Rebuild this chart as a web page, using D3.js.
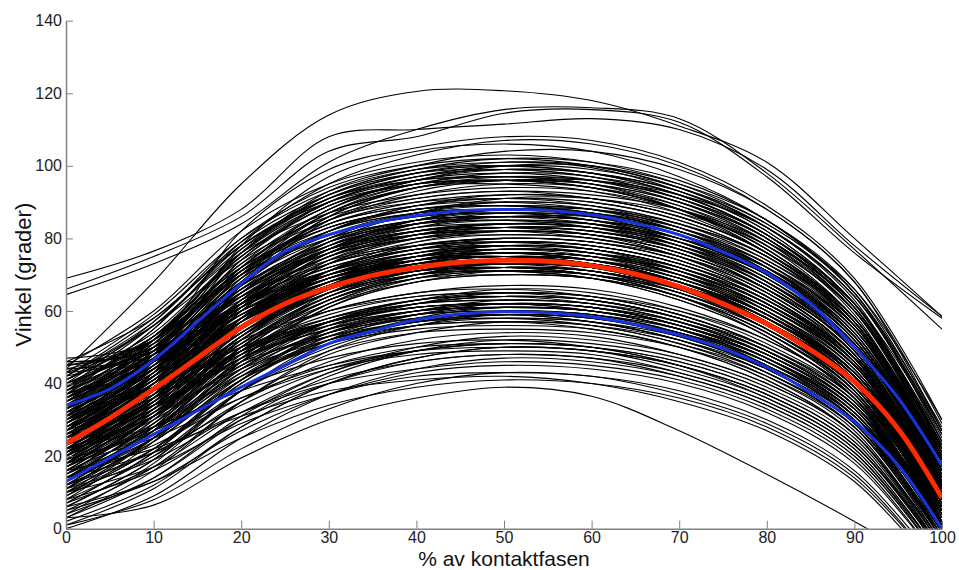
<!DOCTYPE html>
<html>
<head>
<meta charset="utf-8">
<script src="https://cdn.jsdelivr.net/npm/d3@7"></script>
<style>
  body { margin: 0; background: #fff; }
  svg { display: block; font-family: "Liberation Sans", Arial, sans-serif; }
</style>
</head>
<body>
<div id="chart"></div>
<script>
// sample positions (% of contact phase) for the individual trials
const trialX = [0, 10, 20, 30, 40, 50, 60, 70, 80, 90, 100];

// individual trials (degrees)
const trials = [
  // outliers on top
  [44, 68, 95, 114, 120.5, 120.7, 118, 111, 101, 80, 58.5],
  [69, 76.5, 88, 108, 110, 111.5, 113, 110, 99, 78, 58.5],
  [66, 75, 86, 104, 108, 114.5, 115.5, 112, 97, 76, 58],
  [64.5, 73, 84, 101, 110, 115.5, 116, 113, 98, 77, 55],
  // high
  [45, 60, 82, 95, 101, 103, 101, 95, 84, 66, 30],
  [40, 57, 80, 94, 100, 102, 100, 94, 83, 64, 27],
  [35, 52, 76, 92, 99, 101, 99.5, 93, 82, 62, 24],
  [46, 50, 78, 97, 104, 106, 104, 97, 85, 65, 28],
  [38, 55, 79, 95, 103, 107, 106, 100, 88, 68, 29],
  [30, 48, 74, 90, 97, 99, 97, 91, 80, 60, 22],
  [42, 58, 78, 91, 97, 99, 98, 93, 83, 64, 25],
  [33, 50, 73, 88, 95, 98, 97, 92, 81, 61, 20],
  [28, 45, 70, 87, 95, 97, 95, 88, 76, 57, 18],
  [44, 49, 76, 93, 100, 104, 104, 99, 88, 68, 27],
  [36, 53, 75, 89, 96, 100, 100, 95, 85, 65, 24],
  [25, 42, 68, 86, 94, 96, 94, 88, 77, 58, 20],
  [47, 52, 82, 99, 105, 108, 107, 101, 89, 69, 30],
  [39, 56, 77, 91, 98, 101, 100, 94, 83, 63, 22],
  [32, 49, 72, 88, 96, 99, 98, 93, 82, 62, 21],
  [43, 59, 80, 93, 99, 100, 98, 92, 81, 62, 23],
  [34, 51, 75, 90, 97, 100, 99, 94, 84, 65, 26],
  [29, 47, 72, 88, 96, 98, 96, 90, 79, 59, 19],
  [41, 54, 76, 90, 96, 97, 95, 89, 78, 58, 18],
  [37, 55, 78, 91, 96, 97, 96, 91, 81, 62, 24],
  [24, 43, 69, 86, 94, 97, 96, 91, 81, 62, 22],
  [45, 52, 77, 92, 99, 102, 101, 96, 85, 66, 27],
  [31, 49, 74, 89, 95, 96, 94, 88, 77, 57, 17],
  [39, 53, 75, 89, 95, 96, 95, 90, 80, 61, 23],
  [27, 46, 71, 87, 94, 95, 93, 87, 76, 57, 18],
  [42, 57, 79, 92, 98, 99, 97, 91, 80, 60, 20],
  [33, 52, 76, 91, 98, 100, 98, 92, 81, 61, 21],
  [20, 40, 67, 85, 93, 96, 95, 90, 80, 61, 22],
  [36, 50, 72, 87, 94, 96, 96, 92, 83, 64, 26],
  [46, 58, 78, 90, 95, 96, 94, 88, 77, 58, 19],
  // upper middle
  [41, 56, 76, 87, 92, 94, 93, 88, 78, 60, 22],
  [37, 52, 73, 85, 91, 93, 91, 86, 76, 58, 20],
  [29, 45, 68, 82, 89, 92, 91, 86, 76, 57, 19],
  [44, 48, 70, 85, 90, 91, 90, 85, 75, 57, 18],
  [34, 49, 70, 83, 88, 90, 89, 84, 74, 56, 17],
  [26, 42, 65, 80, 87, 90, 89, 84, 75, 56, 16],
  [31, 47, 69, 82, 88, 89, 87, 81, 70, 52, 15],
  [38, 53, 72, 83, 88, 89, 88, 83, 73, 55, 18],
  [22, 38, 62, 78, 85, 88, 87, 82, 72, 54, 15],
  [45, 50, 69, 82, 87, 88, 86, 80, 70, 52, 13],
  [35, 50, 70, 81, 86, 87, 86, 81, 71, 53, 16],
  [27, 43, 65, 79, 85, 86, 85, 80, 70, 51, 12],
  [40, 52, 70, 80, 85, 86, 85, 81, 72, 55, 19],
  [20, 36, 60, 76, 83, 86, 85, 80, 70, 52, 14],
  [33, 47, 67, 79, 84, 85, 84, 79, 69, 51, 13],
  [24, 40, 63, 77, 83, 85, 84, 79, 69, 50, 11],
  [43, 48, 67, 79, 84, 85, 83, 77, 66, 48, 10],
  [30, 44, 64, 77, 82, 84, 83, 78, 68, 50, 12],
  [36, 48, 66, 77, 82, 83, 82, 77, 67, 49, 11],
  [18, 34, 58, 74, 81, 83, 82, 77, 67, 49, 12],
  [28, 42, 62, 75, 81, 83, 82, 78, 69, 51, 14],
  [46, 49, 65, 77, 81, 82, 81, 76, 66, 48, 9],
  [25, 41, 62, 75, 80, 82, 81, 76, 66, 48, 10],
  [32, 46, 65, 76, 81, 82, 80, 75, 65, 47, 9],
  [39, 52, 71, 84, 90, 92, 91, 86, 76, 58, 21],
  [23, 39, 63, 79, 87, 91, 91, 87, 78, 60, 23],
  [42, 56, 74, 86, 91, 93, 92, 88, 79, 62, 26],
  [31, 48, 71, 85, 92, 95, 94, 89, 79, 60, 20],
  [36, 51, 71, 84, 89, 91, 90, 85, 75, 56, 17],
  [27, 44, 67, 82, 89, 91, 89, 83, 72, 53, 14],
  [38, 51, 71, 83, 88, 89, 87, 82, 72, 54, 16],
  [30, 46, 68, 81, 87, 88, 87, 82, 73, 55, 17],
  [21, 37, 61, 76, 84, 87, 86, 81, 71, 53, 14],
  [43, 52, 70, 81, 86, 87, 85, 79, 68, 50, 11],
  [26, 41, 63, 77, 84, 86, 85, 81, 71, 53, 15],
  [35, 48, 68, 80, 85, 86, 84, 78, 67, 49, 10],
  [17, 33, 57, 73, 81, 84, 83, 79, 70, 52, 14],
  [32, 45, 65, 78, 84, 85, 84, 80, 71, 54, 17],
  [40, 50, 67, 78, 83, 84, 83, 78, 68, 50, 12],
  [23, 38, 60, 75, 82, 84, 83, 78, 68, 50, 11],
  [28, 42, 62, 75, 81, 83, 83, 79, 70, 53, 16],
  [37, 48, 65, 76, 81, 82, 81, 76, 66, 48, 10],
  [19, 35, 58, 73, 80, 83, 82, 77, 67, 49, 11],
  [44, 51, 66, 77, 82, 83, 81, 75, 64, 46, 8],
  [25, 40, 61, 74, 80, 82, 81, 77, 68, 51, 14],
  [31, 44, 63, 75, 80, 81, 80, 75, 65, 47, 9],
  [15, 31, 55, 71, 79, 82, 81, 76, 66, 48, 10],
  [34, 47, 66, 78, 84, 86, 86, 82, 73, 56, 19],
  [22, 39, 62, 77, 85, 88, 87, 82, 72, 53, 13],
  [29, 44, 66, 80, 87, 89, 88, 83, 73, 55, 16],
  [39, 53, 72, 84, 89, 90, 88, 82, 71, 52, 12],
  [18, 36, 61, 77, 85, 88, 88, 84, 75, 57, 18],
  [33, 46, 64, 76, 82, 84, 84, 80, 72, 56, 20],
  [27, 43, 65, 79, 85, 87, 85, 79, 68, 49, 9],
  [41, 53, 71, 82, 87, 88, 87, 83, 74, 57, 20],
  // middle
  [23, 38, 56, 68, 74, 76, 75, 70, 60, 44, 11],
  [26, 40, 58, 69, 75, 77, 76, 70, 60, 43, 9],
  [20, 35, 54, 67, 73, 75, 74, 68, 58, 42, 8],
  [29, 42, 59, 70, 75, 77, 75, 69, 59, 42, 7],
  [17, 32, 52, 65, 72, 74, 73, 68, 58, 42, 9],
  [33, 45, 61, 71, 76, 78, 77, 72, 62, 46, 12],
  [22, 37, 56, 68, 74, 76, 74, 68, 57, 40, 6],
  [14, 29, 50, 64, 71, 74, 73, 68, 59, 43, 10],
  [30, 43, 60, 71, 77, 79, 78, 73, 63, 47, 13],
  [25, 39, 57, 69, 75, 77, 76, 71, 61, 45, 11],
  [19, 34, 53, 66, 72, 74, 73, 67, 57, 40, 7],
  [36, 47, 62, 72, 77, 79, 78, 73, 64, 47, 14],
  [28, 41, 58, 69, 74, 76, 74, 68, 58, 41, 7],
  [21, 36, 55, 67, 73, 75, 73, 67, 56, 39, 5],
  [11, 27, 49, 63, 70, 73, 72, 67, 58, 42, 9],
  [34, 46, 62, 73, 79, 81, 80, 75, 65, 48, 15],
  [24, 38, 56, 68, 73, 75, 73, 67, 57, 40, 6],
  [31, 43, 59, 69, 74, 75, 74, 69, 59, 43, 10],
  [16, 31, 51, 64, 71, 73, 72, 67, 57, 41, 8],
  [27, 41, 59, 71, 77, 80, 79, 74, 64, 47, 13],
  [38, 49, 63, 72, 77, 78, 77, 72, 62, 45, 11],
  [22, 36, 54, 66, 71, 73, 72, 67, 58, 42, 9],
  [13, 28, 49, 63, 70, 72, 71, 66, 56, 40, 7],
  [29, 41, 57, 67, 72, 73, 72, 66, 56, 39, 5],
  [18, 33, 53, 66, 72, 74, 72, 66, 55, 38, 4],
  [35, 46, 60, 69, 73, 74, 72, 67, 57, 40, 6],
  [24, 39, 58, 71, 78, 80, 79, 74, 64, 47, 13],
  [20, 34, 52, 64, 70, 72, 71, 66, 56, 40, 8],
  [32, 44, 60, 70, 75, 76, 75, 70, 61, 45, 12],
  [15, 30, 50, 63, 69, 71, 70, 65, 55, 39, 6],
  [26, 39, 56, 67, 72, 74, 73, 68, 59, 43, 10],
  [40, 50, 64, 73, 78, 79, 78, 73, 63, 46, 12],
  [21, 35, 53, 65, 71, 72, 71, 65, 55, 38, 3],
  [28, 40, 56, 66, 71, 72, 70, 64, 54, 37, 2],
  [12, 27, 47, 61, 68, 70, 69, 64, 55, 39, 7],
  [33, 44, 58, 68, 72, 73, 72, 67, 58, 42, 10],
  [23, 37, 55, 66, 71, 72, 70, 64, 53, 36, 1],
  [17, 31, 50, 62, 68, 70, 69, 64, 54, 38, 5],
  [30, 42, 57, 67, 71, 72, 71, 66, 57, 41, 9],
  [25, 38, 54, 65, 70, 71, 69, 63, 53, 36, 2],
  [19, 33, 51, 63, 69, 70, 69, 64, 54, 38, 6],
  [37, 47, 60, 69, 74, 76, 75, 70, 61, 45, 13],
  [10, 25, 46, 61, 68, 71, 70, 65, 56, 40, 8],
  [27, 40, 57, 69, 75, 78, 77, 72, 63, 46, 12],
  [22, 36, 55, 68, 75, 78, 77, 72, 62, 45, 10],
  [24, 38, 57, 70, 76, 78, 77, 72, 62, 45, 10],
  [31, 44, 61, 72, 77, 78, 76, 70, 59, 42, 6],
  [18, 33, 53, 67, 74, 77, 76, 71, 62, 46, 12],
  [35, 46, 61, 71, 76, 77, 76, 71, 61, 44, 9],
  [12, 28, 50, 65, 73, 76, 75, 71, 61, 45, 11],
  [27, 40, 57, 68, 74, 76, 75, 71, 62, 46, 13],
  [21, 35, 54, 67, 73, 75, 74, 69, 60, 44, 10],
  [38, 48, 62, 71, 75, 76, 74, 69, 59, 42, 7],
  [16, 31, 52, 66, 73, 75, 74, 69, 59, 43, 8],
  [29, 42, 58, 69, 74, 75, 73, 67, 57, 40, 5],
  [23, 37, 55, 67, 72, 74, 73, 68, 59, 43, 9],
  [9, 25, 47, 62, 70, 73, 72, 68, 59, 43, 10],
  [33, 44, 59, 69, 73, 74, 73, 68, 59, 43, 10],
  [26, 39, 56, 67, 72, 73, 71, 65, 55, 38, 3],
  [19, 34, 53, 65, 71, 73, 72, 67, 58, 42, 8],
  [42, 49, 62, 70, 74, 75, 73, 68, 58, 41, 6],
  [14, 29, 49, 63, 70, 72, 71, 66, 57, 41, 8],
  [30, 42, 57, 67, 72, 73, 72, 67, 58, 43, 11],
  [22, 36, 54, 66, 71, 72, 70, 64, 54, 37, 2],
  [36, 46, 59, 68, 72, 73, 72, 67, 57, 41, 8],
  [11, 27, 48, 62, 69, 71, 70, 66, 57, 41, 9],
  [25, 38, 55, 66, 71, 72, 71, 66, 57, 41, 9],
  [17, 32, 51, 64, 70, 71, 70, 65, 55, 39, 5],
  [28, 41, 58, 70, 76, 79, 78, 73, 63, 46, 11],
  [20, 36, 57, 71, 78, 80, 79, 74, 64, 47, 12],
  [32, 45, 62, 73, 78, 80, 79, 75, 66, 50, 16],
  [13, 30, 52, 67, 75, 78, 77, 72, 62, 45, 9],
  [39, 49, 64, 74, 78, 79, 77, 71, 60, 43, 7],
  [24, 39, 58, 70, 75, 76, 74, 68, 58, 41, 5],
  [34, 45, 60, 70, 74, 75, 74, 70, 61, 45, 12],
  [15, 31, 53, 67, 74, 77, 76, 72, 63, 47, 13],
  [27, 40, 57, 68, 73, 74, 72, 66, 56, 39, 4],
  [8, 24, 46, 61, 69, 72, 71, 66, 57, 41, 8],
  [37, 47, 61, 70, 74, 75, 73, 68, 58, 42, 9],
  [21, 35, 53, 65, 70, 71, 69, 63, 53, 36, 1],
  // lower middle
  [20, 32, 48, 58, 63, 65, 64, 59, 50, 35, 3],
  [14, 27, 45, 57, 62, 64, 63, 58, 49, 34, 2],
  [25, 35, 49, 58, 63, 64, 62, 57, 48, 33, 0],
  [9, 22, 41, 54, 60, 63, 62, 58, 49, 34, 4],
  [17, 29, 46, 56, 61, 62, 61, 56, 47, 32, -1],
  [28, 37, 50, 58, 62, 63, 62, 57, 48, 33, 1],
  [12, 24, 42, 54, 59, 61, 60, 55, 47, 32, 2],
  [21, 32, 47, 56, 60, 61, 60, 55, 46, 31, -2],
  [6, 19, 38, 51, 58, 61, 60, 56, 48, 34, 5],
  [16, 27, 43, 53, 58, 59, 58, 53, 44, 29, -3],
  [23, 33, 47, 55, 59, 60, 59, 54, 45, 30, -1],
  [10, 22, 40, 52, 57, 59, 58, 54, 46, 31, 1],
  [19, 30, 45, 54, 58, 59, 57, 52, 43, 28, -4],
  [31, 38, 49, 56, 60, 61, 60, 55, 46, 31, 0],
  [8, 20, 38, 50, 56, 58, 57, 53, 45, 31, 2],
  [14, 25, 41, 51, 56, 57, 56, 51, 43, 28, -3],
  [26, 34, 46, 53, 57, 58, 56, 51, 42, 27, -5],
  [5, 17, 35, 48, 54, 57, 56, 52, 44, 30, 1],
  [18, 28, 42, 51, 55, 56, 55, 50, 41, 26, -5],
  [11, 22, 38, 49, 54, 55, 54, 50, 42, 28, -2],
  [22, 31, 44, 52, 56, 57, 55, 50, 41, 26, -6],
  [13, 26, 44, 56, 62, 64, 63, 58, 49, 34, 3],
  [7, 21, 40, 53, 59, 62, 61, 56, 48, 33, 2],
  [24, 34, 48, 57, 61, 62, 60, 55, 45, 30, -2],
  [15, 26, 42, 52, 57, 58, 57, 52, 43, 29, -2],
  [18, 31, 49, 60, 65, 67, 66, 61, 52, 37, 4],
  [26, 36, 51, 60, 65, 66, 64, 59, 50, 35, 2],
  [11, 25, 44, 57, 63, 66, 65, 60, 51, 36, 3],
  [22, 33, 49, 59, 64, 65, 64, 59, 50, 35, 2],
  [7, 21, 41, 55, 62, 65, 64, 60, 52, 37, 5],
  [30, 39, 52, 60, 64, 65, 63, 58, 49, 34, 1],
  [15, 28, 46, 57, 63, 64, 63, 58, 49, 34, 1],
  [20, 31, 47, 57, 62, 63, 62, 57, 48, 33, 0],
  [4, 18, 38, 52, 59, 62, 61, 57, 49, 35, 4],
  [27, 36, 49, 57, 61, 62, 61, 56, 47, 32, -1],
  [13, 25, 43, 55, 60, 62, 61, 56, 47, 32, 0],
  [24, 34, 48, 57, 62, 64, 63, 58, 50, 36, 5],
  [9, 22, 41, 54, 60, 62, 61, 56, 47, 31, -2],
  [17, 28, 44, 54, 59, 60, 59, 54, 45, 30, -3],
  [32, 39, 50, 57, 61, 62, 60, 55, 46, 30, -3],
  [6, 19, 38, 51, 57, 60, 59, 55, 47, 33, 3],
  [21, 31, 45, 54, 58, 59, 57, 52, 43, 28, -4],
  [12, 24, 41, 52, 57, 59, 58, 53, 44, 29, -3],
  [25, 34, 47, 55, 60, 61, 60, 56, 47, 33, 2],
  [3, 16, 35, 49, 56, 59, 58, 54, 46, 32, 1],
  // low
  [10, 20, 35, 46, 52, 54, 53, 48, 40, 26, -5],
  [19, 27, 39, 47, 51, 52, 50, 45, 36, 22, -8],
  [3, 14, 31, 43, 50, 53, 52, 48, 40, 26, -4],
  [14, 23, 36, 45, 50, 51, 50, 46, 38, 24, -6],
  [7, 17, 32, 43, 49, 51, 50, 45, 37, 23, -7],
  [22, 28, 38, 45, 49, 50, 49, 44, 36, 22, -8],
  [1, 11, 28, 40, 47, 50, 49, 45, 37, 23, -6],
  [11, 19, 32, 41, 46, 48, 47, 42, 34, 20, -9],
  [4, 14, 30, 42, 49, 52, 51, 47, 39, 25, -6],
  [12, 21, 34, 44, 49, 51, 50, 46, 38, 24, -7],
  [2, 12, 28, 40, 47, 50, 49, 45, 37, 23, -7],
  [18, 25, 36, 44, 48, 49, 48, 43, 35, 21, -9],
  [8, 16, 30, 40, 46, 48, 47, 43, 35, 21, -8],
  [0, 9, 25, 37, 44, 47, 46, 42, 34, 20, -9],
  [14, 21, 32, 40, 44, 46, 45, 41, 33, 19, -10],
  [5, 13, 27, 37, 43, 45, 44, 40, 32, 18, -10],
  [10, 17, 29, 37, 42, 43, 42, 37, 29, 15, -12],
  [1, 8, 22, 33, 40, 43, 42, 38, 30, 16, -11],
  [16, 22, 31, 38, 41, 42, 40, 35, 27, 13, -13],
  [6, 13, 25, 34, 39, 41, 40, 36, 28, 14, -12],
  [3, 6.5, 19.5, 30, 36, 39, 36.5, 27, 15, 2, -12]
];

// mean and +/- 1 SD, sampled every 5 %
const statX = [0, 5, 10, 15, 20, 25, 30, 35, 40, 45, 50, 55, 60, 65, 70, 75, 80, 85, 90, 95, 100];
const meanVals  = [23.5, 30.5, 38.5, 47, 55.5, 62, 66.5, 69.8, 72, 73.4, 74, 73.7, 72.5, 70.2, 66.7, 62, 56.5, 49.3, 40.5, 27.5, 8.5];
const upperVals = [34, 38.5, 46.5, 57, 67.5, 76.5, 81, 84.2, 86.3, 87.6, 88, 87.7, 86.5, 84.2, 81, 76.3, 70.5, 62, 50, 36, 17.5];
const lowerVals = [13, 19.5, 26, 32.5, 39, 45, 51, 54.5, 57.6, 59.2, 59.8, 59.5, 58.4, 56.3, 53.4, 49.7, 44.5, 37.5, 29.5, 17.5, 0];

const xTicks = [0, 10, 20, 30, 40, 50, 60, 70, 80, 90, 100];
const yTicks = [0, 20, 40, 60, 80, 100, 120, 140];

const width = 959, height = 570;
const margin = {left: 66, right: 17, top: 20.7, bottom: 41.3};

const svg = d3.select("#chart").append("svg")
    .attr("width", width)
    .attr("height", height);

const x = d3.scaleLinear().domain([0, 100]).range([margin.left, width - margin.right]);
const y = d3.scaleLinear().domain([0, 140]).range([height - margin.bottom, margin.top]);

svg.append("clipPath").attr("id", "plotclip")
  .append("rect")
    .attr("x", x(0)).attr("y", y(140))
    .attr("width", x(100) - x(0)).attr("height", y(0) - y(140));

const plot = svg.append("g").attr("clip-path", "url(#plotclip)");

const trialLine = d3.line()
    .x((d, i) => x(trialX[i]))
    .y(d => y(d))
    .curve(d3.curveCatmullRom);

plot.selectAll("path.trial")
  .data(trials)
  .join("path")
    .attr("class", "trial")
    .attr("d", trialLine)
    .attr("fill", "none")
    .attr("stroke", "#000")
    .attr("stroke-width", 1.1);

const statLine = d3.line()
    .x((d, i) => x(statX[i]))
    .y(d => y(d))
    .curve(d3.curveCatmullRom);

[upperVals, lowerVals].forEach(vals => {
  plot.append("path")
    .attr("d", statLine(vals))
    .attr("fill", "none")
    .attr("stroke", "#1634e0")
    .attr("stroke-width", 3);
});

plot.append("path")
  .attr("d", statLine(meanVals))
  .attr("fill", "none")
  .attr("stroke", "#ff2a00")
  .attr("stroke-width", 5);

// axes (ticks point inward, no box)
const axisColor = "#808080";

const xAxis = svg.append("g")
    .attr("transform", `translate(0,${y(0)})`)
    .call(d3.axisBottom(x).tickValues(xTicks).tickSizeInner(-8).tickSizeOuter(0).tickPadding(3));
const yAxis = svg.append("g")
    .attr("transform", `translate(${x(0)},0)`)
    .call(d3.axisLeft(y).tickValues(yTicks).tickSizeInner(-7).tickSizeOuter(0).tickPadding(4));

[xAxis, yAxis].forEach(ax => {
  ax.select(".domain").attr("stroke", axisColor).attr("stroke-width", 1.5);
  ax.selectAll(".tick line").attr("stroke", axisColor);
  ax.selectAll(".tick text")
    .attr("fill", "#222")
    .style("font-size", "16px")
    .style("font-family", "'Liberation Sans', Arial, sans-serif");
});

svg.append("text")
    .attr("x", (x(0) + x(100)) / 2)
    .attr("y", 565.5)
    .attr("text-anchor", "middle")
    .style("font-size", "21px")
    .attr("fill", "#111")
    .text("% av kontaktfasen");

svg.append("text")
    .attr("transform", `translate(31,${(y(0) + y(140)) / 2}) rotate(-90)`)
    .attr("text-anchor", "middle")
    .style("font-size", "22px")
    .attr("fill", "#111")
    .text("Vinkel (grader)");
</script>
</body>
</html>
